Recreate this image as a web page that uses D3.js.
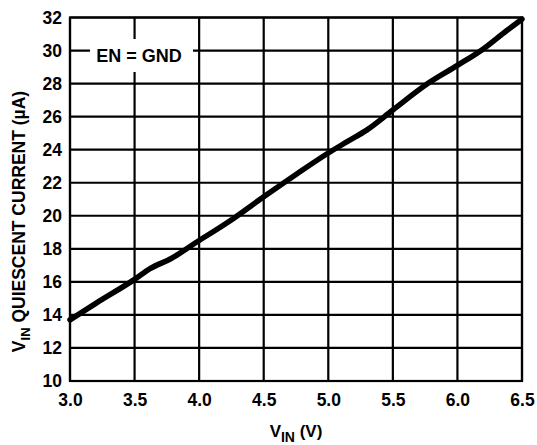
<!DOCTYPE html>
<html>
<head>
<meta charset="utf-8">
<script src="https://cdn.jsdelivr.net/npm/d3@7"></script>
<style>
  body { margin: 0; background: #fff; }
  text { font-family: "Liberation Sans", Arial, sans-serif; font-weight: bold; fill: #000; }
</style>
</head>
<body>
<div id="chart"></div>
<script>
// --- Data ---
const vin = [3.0, 3.2, 3.5, 3.62, 3.78, 4.0, 4.24, 4.5, 4.75, 5.0, 5.15, 5.3, 5.5, 5.77, 6.0, 6.2, 6.38, 6.5];
const iq  = [13.7, 14.7, 16.15, 16.8, 17.4, 18.5, 19.7, 21.15, 22.5, 23.8, 24.5, 25.2, 26.4, 28.0, 29.1, 30.1, 31.2, 31.9];
const xTicks = [3.0, 3.5, 4.0, 4.5, 5.0, 5.5, 6.0, 6.5];
const yTicks = [10, 12, 14, 16, 18, 20, 22, 24, 26, 28, 30, 32];

// --- Size & margins ---
const W = 537, H = 445;
const margin = { top: 17.5, right: 15, bottom: 64, left: 70 },
      width = W - margin.left - margin.right,
      height = H - margin.top - margin.bottom;

const svg = d3.select("#chart").append("svg")
    .attr("width", W)
    .attr("height", H)
  .append("g")
    .attr("transform", `translate(${margin.left},${margin.top})`);

// --- Scales ---
const x = d3.scaleLinear().domain([3.0, 6.5]).range([0, width]);
const y = d3.scaleLinear().domain([10, 32]).range([height, 0]);

// --- Grid ---
svg.append("g").selectAll("line")
  .data(xTicks)
  .join("line")
    .attr("x1", d => x(d)).attr("x2", d => x(d))
    .attr("y1", 0).attr("y2", height)
    .attr("stroke", "#000").attr("stroke-width", 2.2);

svg.append("g").selectAll("line")
  .data(yTicks)
  .join("line")
    .attr("x1", 0).attr("x2", width)
    .attr("y1", d => y(d)).attr("y2", d => y(d))
    .attr("stroke", "#000").attr("stroke-width", 2.2);

svg.append("rect")
  .attr("width", width).attr("height", height)
  .attr("fill", "none").attr("stroke", "#000").attr("stroke-width", 2.2);

// --- Axes (labels only) ---
const xAxis = svg.append("g")
  .attr("transform", `translate(0,${height})`)
  .call(d3.axisBottom(x).tickValues(xTicks).tickFormat(d3.format(".1f")).tickSize(0).tickPadding(13));
xAxis.select(".domain").remove();
xAxis.selectAll("text").style("font-size", "17.5px").attr("font-family", null);

const yAxis = svg.append("g")
  .call(d3.axisLeft(y).tickValues(yTicks).tickSize(0).tickPadding(8));
yAxis.select(".domain").remove();
yAxis.selectAll("text").style("font-size", "17.5px").attr("font-family", null);

// --- Curve ---
const pts = vin.map((v, i) => [v, iq[i]]);
svg.append("path")
  .datum(pts)
  .attr("fill", "none")
  .attr("stroke", "#000")
  .attr("stroke-width", 5.5)
  .attr("stroke-linecap", "round")
  .attr("d", d3.line().x(d => x(d[0])).y(d => y(d[1])).curve(d3.curveMonotoneX));

// --- Label box ---
svg.append("rect")
  .attr("x", 20).attr("y", 21.5)
  .attr("width", 103).attr("height", 33)
  .attr("fill", "#fff");
svg.append("text")
  .attr("x", 69).attr("y", 44.5)
  .attr("text-anchor", "middle")
  .style("font-size", "18px")
  .text("EN = GND");

// --- Axis titles ---
const xt = svg.append("text")
  .attr("x", 226)
  .attr("y", height + 56)
  .attr("text-anchor", "middle")
  .style("font-size", "17px");
xt.append("tspan").text("V");
xt.append("tspan").attr("dy", 5).style("font-size", "14px").text("IN");
xt.append("tspan").attr("dy", -5).text(" (V)");

const yt = svg.append("text")
  .attr("transform", "rotate(-90)")
  .attr("x", -204)
  .attr("y", -45)
  .attr("text-anchor", "middle")
  .style("font-size", "17.5px");
yt.append("tspan").text("V");
yt.append("tspan").attr("dy", 5).style("font-size", "13px").text("IN");
yt.append("tspan").attr("dy", -5).text(" QUIESCENT CURRENT (µA)");
</script>
</body>
</html>
